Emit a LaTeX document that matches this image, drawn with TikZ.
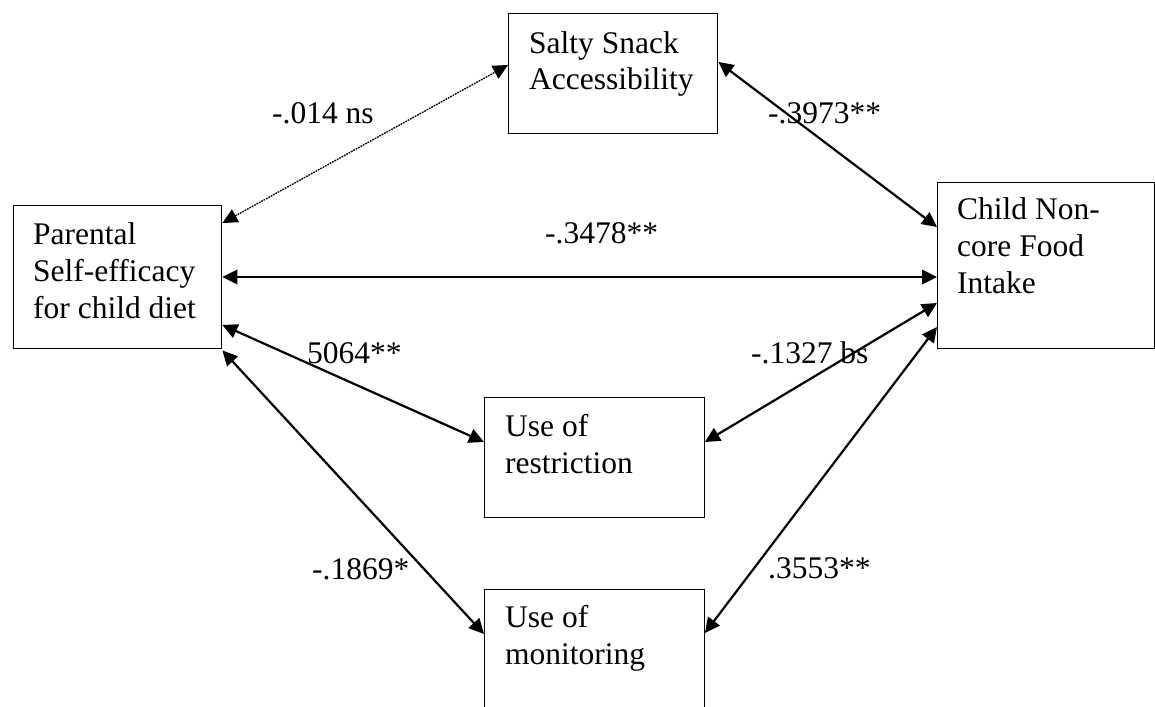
\documentclass[tikz,border=0pt]{standalone}
\usepackage{fontspec}
\setmainfont{Liberation Serif}
\usetikzlibrary{arrows.meta}
\tikzset{
  box/.style={draw, line width=1.4pt, inner sep=0pt, anchor=north west},
  boxtext/.style={anchor=base west, inner sep=0pt, align=left, font=\fontsize{31.5}{36.7}\selectfont},
  lbl/.style={anchor=base west, inner sep=0pt, font=\fontsize{31.5}{36.7}\selectfont},
  link/.style={line width=2.2pt, {Triangle[length=15pt,width=14.5pt]}-{Triangle[length=15pt,width=14.5pt]}},
  dlink/.style={line width=1.3pt, dash pattern=on 1.8pt off 0.9pt, {Triangle[length=15pt,width=14.5pt]}-{Triangle[length=15pt,width=14.5pt]}}
}
\begin{document}
\begin{tikzpicture}[x=1pt,y=-1pt]
\useasboundingbox (0,0) rectangle (1155,706);
\clip (0,0) rectangle (1155,706);
% boxes
\node[box, minimum width=209pt, minimum height=120pt] (salty) at (508,13) {};
\node[box, minimum width=208pt, minimum height=143pt] (parental) at (13,205) {};
\node[box, minimum width=217pt, minimum height=166pt] (child) at (937,182) {};
\node[box, minimum width=219.5pt, minimum height=120pt] (restr) at (484,397) {};
\node[box, minimum width=219.5pt, minimum height=140pt] (monit) at (484,589) {};
% box texts (anchored at the baseline of their last line)
\node[boxtext] (saltyt) at (529,90) {Salty Snack\\Accessibility};
\node[boxtext] (parentalt) at (33,318) {Parental\\Self-efficacy\\for child diet};
\node[boxtext] (childt) at (957,293) {Child Non-\\core Food\\Intake};
\node[boxtext] (restrt) at (505,473) {Use of\\restriction};
\node[boxtext] (monitt) at (505,664) {Use of\\monitoring};
% connectors
\draw[dlink] ([yshift=-18pt]parental.north east) -- ([yshift=-52pt]salty.north west);
\draw[link] ([yshift=-49pt]salty.north east) -- ([yshift=-45pt]child.north west);
\draw[link] ([yshift=-72pt]parental.north east) -- ([yshift=-95pt]child.north west);
\draw[link] ([yshift=-120pt]parental.north east) -- ([yshift=-45pt]restr.north west);
\draw[link] ([yshift=-45pt]restr.north east) -- ([yshift=-121pt]child.north west);
\draw[link] ([yshift=-1pt]parental.south east) -- ([yshift=-45pt]monit.north west);
\draw[link] ([yshift=-44pt]monit.north east) -- ([yshift=-145pt]child.north west);
% labels
\node[lbl] (l1) at (272,123) {-.014 ns};
\node[lbl] (l2) at (768,123) {-.3973**};
\node[lbl] (l3) at (545,243) {-.3478**};
\node[lbl] (l4) at (307,363) {5064**};
\node[lbl] (l5) at (751,363) {-.1327 bs};
\node[lbl] (l6) at (312,579) {-.1869*};
\node[lbl] (l7) at (768,578) {.3553**};
\end{tikzpicture}
\end{document}
